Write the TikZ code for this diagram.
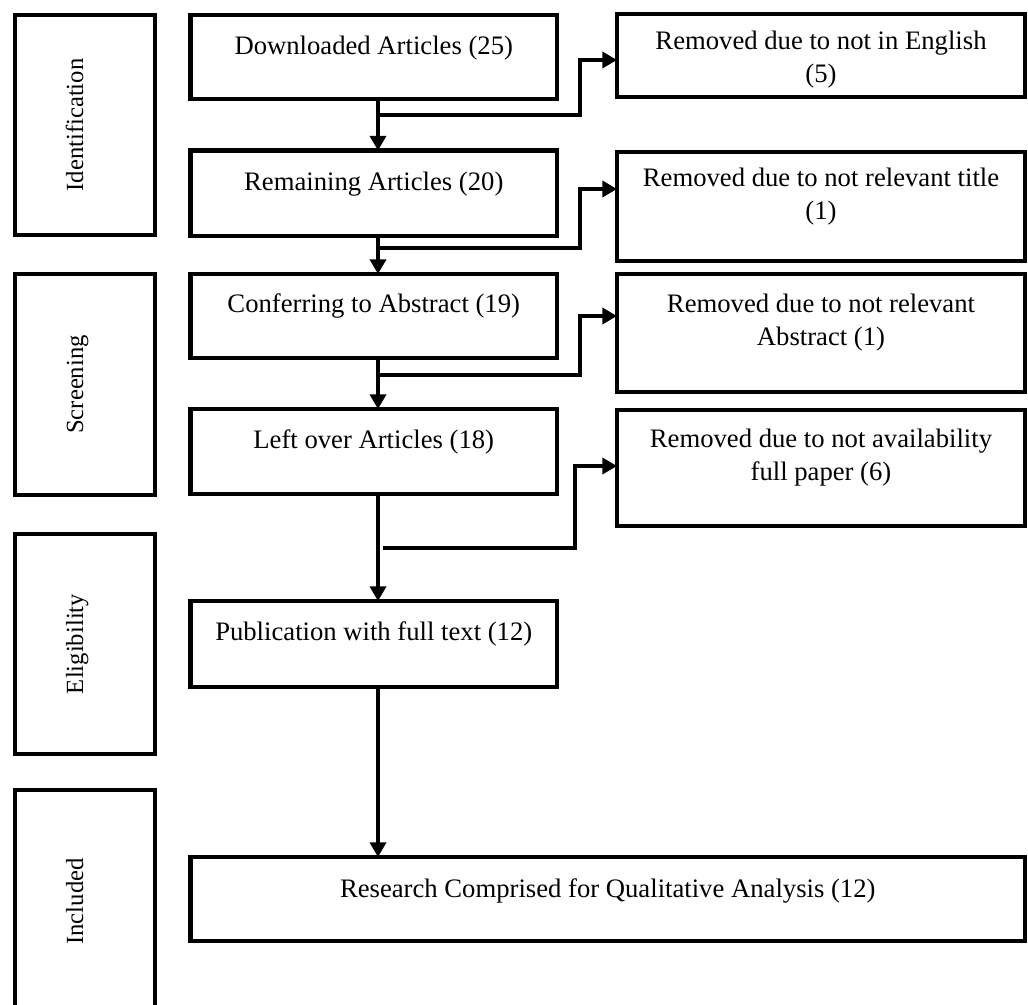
\documentclass[tikz,border=0pt]{standalone}
\usepackage{fontspec}
\setmainfont{Liberation Serif}
\usetikzlibrary{arrows.meta}
\newcommand{\twolines}[2]{\begin{tabular}[t]{@{}c@{}}#1\\#2\end{tabular}}
\tikzset{
  box/.style 2 args={draw, line width=3.2pt, rectangle, inner sep=0pt, outer sep=0pt,
    minimum width=#1*0.75pt, minimum height=#2*0.75pt},
  txt/.style={inner sep=0pt, outer sep=0pt, anchor=base, align=center,
    font=\fontsize{20}{24.75}\selectfont},
  phase/.style={inner sep=0pt, outer sep=0pt, anchor=base, rotate=90,
    font=\fontsize{18.5}{22}\selectfont},
  arr/.style={line width=3.2pt, -{Triangle[length=11pt,width=12pt]}}
}
\begin{document}
\begin{tikzpicture}[x=0.75pt,y=-0.75pt]
\useasboundingbox (0,0) rectangle (1028,1005);
% phase boxes
\node[box={140}{220}] (id) at (85,125) {};
\node[box={140}{221}] (scr) at (85,384.5) {};
\node[box={140}{220}] (eli) at (85,644) {};
\node[box={140}{223}] (inc) at (85,901.5) {};
\node[phase] (idt) at (83,125) {Identification};
\node[phase] (scrt) at (83,384.5) {Screening};
\node[phase] (elit) at (83,644) {Eligibility};
\node[phase] (inct) at (83,901.5) {Included};
% main boxes
\node[box={366.5}{84}] (dl) at (373.75,57) {};
\node[box={366.5}{85.5}] (rem) at (373.75,193.25) {};
\node[box={366.5}{84}] (conf) at (373.75,316) {};
\node[box={366.5}{85}] (lo) at (373.75,451.5) {};
\node[box={366.5}{86}] (pub) at (373.75,644) {};
\node[box={834.5}{84}] (res) at (607.75,899) {};
\node[txt] (dlt) at (373.75,55) {Downloaded Articles (25)};
\node[txt] (remt) at (373.75,191) {Remaining Articles (20)};
\node[txt] (conft) at (373.75,313) {Conferring to Abstract (19)};
\node[txt] (lot) at (373.75,448) {Left over Articles (18)};
\node[txt] (pubt) at (373.75,640.5) {Publication with full text (12)};
\node[txt] (rest) at (607.75,897.5) {Research Comprised for Qualitative Analysis (12)};
% removed boxes
\node[box={408}{83}] (eng) at (821,55.5) {};
\node[box={408}{109}] (tit) at (821,206.5) {};
\node[box={408}{118}] (abs) at (821,333) {};
\node[box={408}{116}] (avl) at (821,468) {};
\node[txt] (engt) at (821,50) {\twolines{Removed due to not in English}{(5)}};
\node[txt] (titt) at (821,187) {\twolines{Removed due to not relevant title}{(1)}};
\node[txt] (abst) at (821,313) {\twolines{Removed due to not relevant}{Abstract (1)}};
\node[txt] (avlt) at (821,447) {\twolines{Removed due to not availability}{full paper (6)}};
% main flow
\coordinate (mx) at (378,0);
\draw[arr] (dl.south -| mx) -- (rem.north -| mx);
\draw[arr] (rem.south -| mx) -- (conf.north -| mx);
\draw[arr] (conf.south -| mx) -- (lo.north -| mx);
\draw[arr] (lo.south -| mx) -- (pub.north -| mx);
\draw[arr] (pub.south -| mx) -- (res.north -| mx);
% branches
\coordinate (b1) at (378,115);
\coordinate (b2) at (378,248);
\coordinate (b3) at (378,375);
\coordinate (b4) at (383,548);
\draw[arr] (b1) -- (580,115) -- (580,60) -- (eng.west |- 0,60);
\draw[arr] (b2) -- (580,248) -- (580,189) -- (tit.west |- 0,189);
\draw[arr] (b3) -- (580,375) -- (580,316) -- (abs.west |- 0,316);
\draw[arr] (b4) -- (575,548) -- (575,466) -- (avl.west |- 0,466);
\end{tikzpicture}
\end{document}
